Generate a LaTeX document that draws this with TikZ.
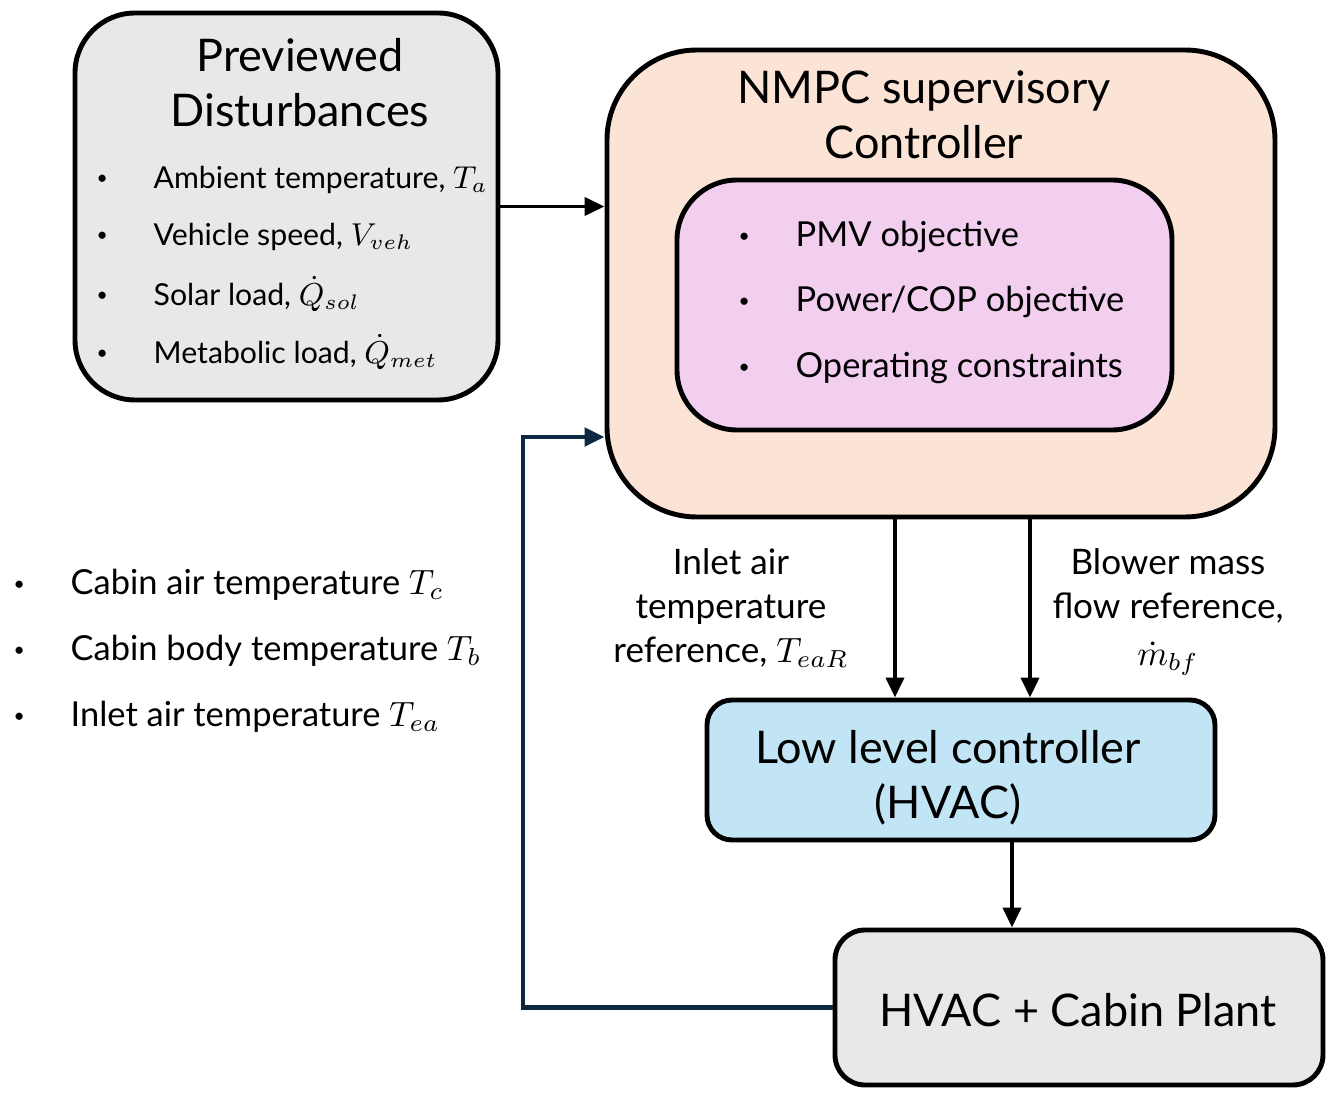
\documentclass[tikz,border=0pt]{standalone}
\usepackage{fontspec}
\setmainfont{Lato}
\usepackage{tikz}
\usetikzlibrary{arrows.meta,positioning}
\definecolor{boxgray}{HTML}{E8E8E8}
\definecolor{peach}{HTML}{FBE3D6}
\definecolor{lilac}{HTML}{F2CEEF}
\definecolor{skyblue}{HTML}{C1E5F5}
\definecolor{navy}{HTML}{0E2841}
\newcommand{\blt}{\makebox[0.57cm][l]{\raisebox{0.25ex}{\fontsize{5.5}{6}\selectfont\textbullet}}}

\begin{document}
\begin{tikzpicture}[
    box/.style={rectangle, draw, line width=1.4pt, rounded corners=#1},
    box/.default=0.5cm,
    title/.style={font=\fontsize{12.8}{15.6}\selectfont, align=center},
    item/.style={anchor=west, inner sep=0pt, font=\fontsize{#1}{11}\selectfont},
    item/.default=8.6,
    sig/.style={font=\fontsize{10}{12.5}\selectfont, align=center},
    arrow/.style={-{Triangle[length=2mm,width=1.8mm]}, line width=1.1pt}
]
\useasboundingbox (0,0) rectangle (13.35,-10.97);

% blocks
\node[box=0.6cm, fill=boxgray, minimum width=4.23cm, minimum height=3.87cm] (prev) at (2.865,-2.065) {};
\node[box=0.9cm, fill=peach, minimum width=6.68cm, minimum height=4.67cm] (nmpc) at (9.41,-2.835) {};
\node[box=0.6cm, fill=lilac, minimum width=4.95cm, minimum height=2.5cm] (obj) at (9.245,-3.05) {};
\node[box=0.25cm, fill=skyblue, minimum width=5.08cm, minimum height=1.40cm] (llc) at (9.61,-7.70) {};
\node[box=0.3cm, fill=boxgray, minimum width=4.88cm, minimum height=1.55cm] (plant) at (10.79,-10.075) {};

% block texts
\node[title] (prevtitle) at (3.0,-0.825) {Previewed\\Disturbances};
\node[item] (ta) at (0.96,-1.80) {\blt Ambient temperature, $T_a$};
\node[item] (vveh) at (0.96,-2.37) {\blt Vehicle speed, $V_{veh}$};
\node[item] (qsol) at (0.96,-2.94) {\blt Solar load, $\dot{Q}_{sol}$};
\node[item] (qmet) at (0.96,-3.52) {\blt Metabolic load, $\dot{Q}_{met}$};

\node[title] (nmpctitle) at (9.24,-1.145) {NMPC supervisory\\Controller};
\node[item=9.8] (pmv) at (7.38,-2.37) {\blt PMV objective};
\node[item=9.8] (cop) at (7.38,-3.02) {\blt Power/COP objective};
\node[item=9.8] (cons) at (7.38,-3.68) {\blt Operating constraints};

\node[title] (llctitle) at (9.48,-7.775) {Low level controller\\(HVAC)};
\node[title] (planttitle) at (10.78,-10.10) {HVAC + Cabin Plant};

% measured states
\node[item=9.8] (tc) at (0.13,-5.85) {\blt Cabin air temperature $T_c$};
\node[item=9.8] (tb) at (0.13,-6.51) {\blt Cabin body temperature $T_b$};
\node[item=9.8] (tea) at (0.13,-7.17) {\blt Inlet air temperature $T_{ea}$};

% signal labels
\node[sig] (tear) at (7.31,-6.08) {Inlet air\\temperature\\reference, $T_{eaR}$};
\node[sig] (mbf) at (11.68,-6.12) {Blower mass\\flow reference,\\[1pt]$\dot{m}_{bf}$};

% connectors
\coordinate (t1) at ([xshift=-0.46cm]nmpc.south);
\coordinate (t2) at ([xshift=0.89cm]nmpc.south);
\coordinate (u1) at ([xshift=0.51cm]llc.south);
\coordinate (fb) at (5.23,-4.37);
\draw[arrow] (prev.east) -- (prev.east -| nmpc.west);
\draw[arrow] (t1) -- (t1 |- llc.north);
\draw[arrow] (t2) -- (t2 |- llc.north);
\draw[arrow] (u1) -- (u1 |- plant.north);
\draw[arrow, navy, line width=1.4pt] (plant.west) -| (fb) -- (fb -| nmpc.west);
\end{tikzpicture}
\end{document}
